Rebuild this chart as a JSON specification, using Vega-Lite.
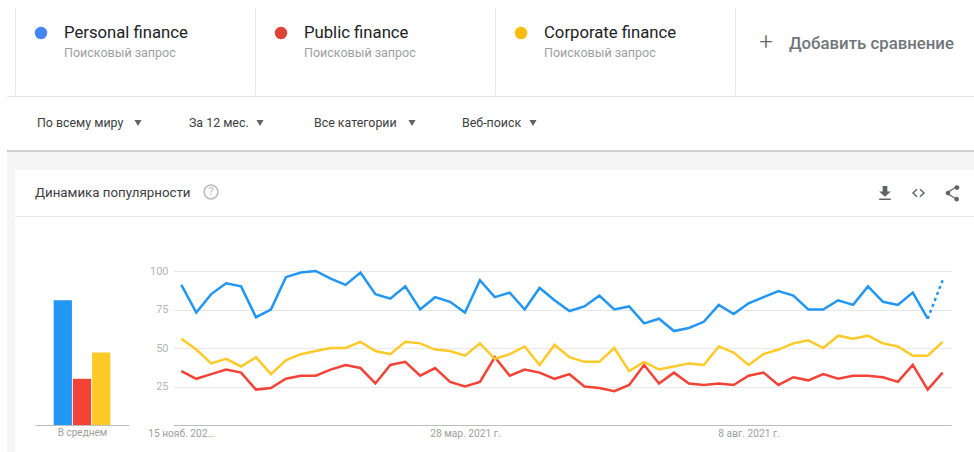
{
"$schema":"https://vega.github.io/schema/vega-lite/v6.json",
"padding":0,"background":"#ffffff","spacing":0,
"resolve":{"scale":{"color":"independent","shape":"independent"}},
"config":{"view":{"stroke":null},"font":"Roboto","concat":{"spacing":0}},
"datasets":{
"cards":[{"term":"Personal finance","order":0,"sub":"Поисковый запрос","kind":"term"},{"term":"Public finance","order":1,"sub":"Поисковый запрос","kind":"term"},{"term":"Corporate finance","order":2,"sub":"Поисковый запрос","kind":"term"},{"term":"Добавить сравнение","order":3,"sub":"+","kind":"add"}],
"filters":[{"filter":"По всему миру","order":0},{"filter":"За 12 мес.","order":1},{"filter":"Все категории","order":2},{"filter":"Веб-поиск","order":3}],
"head":[{"label":"Динамика популярности","help":"?"}],
"icons":[{"icon":"download","order":0},{"icon":"code","order":1},{"icon":"share","order":2}],
"avg":[{"series":"Personal finance","avg":81},{"series":"Public finance","avg":30},{"series":"Corporate finance","avg":47}],
"blank":[{"b":1}],
"trends":[
{"week":"2020-11-15T00:00:00","Personal finance":91,"Public finance":35,"Corporate finance":56},
{"week":"2020-11-22T00:00:00","Personal finance":73,"Public finance":30,"Corporate finance":49},
{"week":"2020-11-29T00:00:00","Personal finance":85,"Public finance":33,"Corporate finance":40},
{"week":"2020-12-06T00:00:00","Personal finance":92,"Public finance":36,"Corporate finance":43},
{"week":"2020-12-13T00:00:00","Personal finance":90,"Public finance":34,"Corporate finance":38},
{"week":"2020-12-20T00:00:00","Personal finance":70,"Public finance":23,"Corporate finance":44},
{"week":"2020-12-27T00:00:00","Personal finance":75,"Public finance":24,"Corporate finance":33},
{"week":"2021-01-03T00:00:00","Personal finance":96,"Public finance":30,"Corporate finance":42},
{"week":"2021-01-10T00:00:00","Personal finance":99,"Public finance":32,"Corporate finance":46},
{"week":"2021-01-17T00:00:00","Personal finance":100,"Public finance":32,"Corporate finance":48},
{"week":"2021-01-24T00:00:00","Personal finance":95,"Public finance":36,"Corporate finance":50},
{"week":"2021-01-31T00:00:00","Personal finance":91,"Public finance":39,"Corporate finance":50},
{"week":"2021-02-07T00:00:00","Personal finance":99,"Public finance":37,"Corporate finance":54},
{"week":"2021-02-14T00:00:00","Personal finance":85,"Public finance":27,"Corporate finance":48},
{"week":"2021-02-21T00:00:00","Personal finance":82,"Public finance":39,"Corporate finance":46},
{"week":"2021-02-28T00:00:00","Personal finance":90,"Public finance":41,"Corporate finance":54},
{"week":"2021-03-07T00:00:00","Personal finance":75,"Public finance":32,"Corporate finance":53},
{"week":"2021-03-14T00:00:00","Personal finance":83,"Public finance":37,"Corporate finance":49},
{"week":"2021-03-21T00:00:00","Personal finance":80,"Public finance":28,"Corporate finance":48},
{"week":"2021-03-28T00:00:00","Personal finance":73,"Public finance":25,"Corporate finance":45},
{"week":"2021-04-04T00:00:00","Personal finance":94,"Public finance":28,"Corporate finance":53},
{"week":"2021-04-11T00:00:00","Personal finance":83,"Public finance":44,"Corporate finance":43},
{"week":"2021-04-18T00:00:00","Personal finance":86,"Public finance":32,"Corporate finance":46},
{"week":"2021-04-25T00:00:00","Personal finance":75,"Public finance":36,"Corporate finance":51},
{"week":"2021-05-02T00:00:00","Personal finance":89,"Public finance":34,"Corporate finance":39},
{"week":"2021-05-09T00:00:00","Personal finance":81,"Public finance":30,"Corporate finance":52},
{"week":"2021-05-16T00:00:00","Personal finance":74,"Public finance":33,"Corporate finance":44},
{"week":"2021-05-23T00:00:00","Personal finance":77,"Public finance":25,"Corporate finance":41},
{"week":"2021-05-30T00:00:00","Personal finance":84,"Public finance":24,"Corporate finance":41},
{"week":"2021-06-06T00:00:00","Personal finance":75,"Public finance":22,"Corporate finance":50},
{"week":"2021-06-13T00:00:00","Personal finance":77,"Public finance":26,"Corporate finance":35},
{"week":"2021-06-20T00:00:00","Personal finance":66,"Public finance":39,"Corporate finance":41},
{"week":"2021-06-27T00:00:00","Personal finance":69,"Public finance":27,"Corporate finance":36},
{"week":"2021-07-04T00:00:00","Personal finance":61,"Public finance":34,"Corporate finance":38},
{"week":"2021-07-11T00:00:00","Personal finance":63,"Public finance":27,"Corporate finance":40},
{"week":"2021-07-18T00:00:00","Personal finance":67,"Public finance":26,"Corporate finance":39},
{"week":"2021-07-25T00:00:00","Personal finance":78,"Public finance":27,"Corporate finance":51},
{"week":"2021-08-01T00:00:00","Personal finance":72,"Public finance":26,"Corporate finance":47},
{"week":"2021-08-08T00:00:00","Personal finance":79,"Public finance":32,"Corporate finance":39},
{"week":"2021-08-15T00:00:00","Personal finance":83,"Public finance":34,"Corporate finance":46},
{"week":"2021-08-22T00:00:00","Personal finance":87,"Public finance":26,"Corporate finance":49},
{"week":"2021-08-29T00:00:00","Personal finance":84,"Public finance":31,"Corporate finance":53},
{"week":"2021-09-05T00:00:00","Personal finance":75,"Public finance":29,"Corporate finance":55},
{"week":"2021-09-12T00:00:00","Personal finance":75,"Public finance":33,"Corporate finance":50},
{"week":"2021-09-19T00:00:00","Personal finance":81,"Public finance":30,"Corporate finance":58},
{"week":"2021-09-26T00:00:00","Personal finance":78,"Public finance":32,"Corporate finance":56},
{"week":"2021-10-03T00:00:00","Personal finance":90,"Public finance":32,"Corporate finance":58},
{"week":"2021-10-10T00:00:00","Personal finance":80,"Public finance":31,"Corporate finance":53},
{"week":"2021-10-17T00:00:00","Personal finance":78,"Public finance":28,"Corporate finance":51},
{"week":"2021-10-24T00:00:00","Personal finance":86,"Public finance":39,"Corporate finance":45},
{"week":"2021-10-31T00:00:00","Personal finance":69,"Public finance":23,"Corporate finance":45,"segment":"edge"},
{"week":"2021-11-07T00:00:00","Personal finance":94,"Public finance":34,"Corporate finance":54,"segment":"partial"}
]},
"vconcat":[
{"width":974,"height":95,"data":{"name":"cards"},
 "resolve":{"scale":{"x":"independent"}},
 "layer":[
 {"mark":{"type":"rule","color":"#e8e8e8","strokeWidth":1},
  "encoding":{"x":{"field":"order","type":"quantitative","axis":null,"scale":{"domain":[0,3],"range":[15.5,735.5]}},
   "y":{"datum":8,"type":"quantitative","axis":null,"scale":{"domain":[0,95],"range":[0,95]}},"y2":{"datum":95}}},
 {"transform":[{"filter":"datum.kind=='term'"}],"mark":{"type":"point","filled":true,"opacity":1,"size":154},
  "encoding":{"x":{"field":"order","type":"quantitative","axis":null,"scale":{"domain":[0,2],"range":[41,521]}},
   "y":{"datum":33,"type":"quantitative","axis":null,"scale":{"domain":[0,95],"range":[0,95]}},
   "color":{"field":"term","type":"nominal","legend":null,"scale":{"domain":["Personal finance","Public finance","Corporate finance"],"range":["#4285f4","#db4437","#fbbc04"]}}}},
 {"transform":[{"filter":"datum.kind=='term'"}],"mark":{"type":"text","align":"left","baseline":"middle","fontSize":16.7,"color":"#202124"},
  "encoding":{"x":{"field":"order","type":"quantitative","axis":null,"scale":{"domain":[0,2],"range":[64,544]}},
   "y":{"datum":33,"type":"quantitative","axis":null,"scale":{"domain":[0,95],"range":[0,95]}},"text":{"field":"term"}}},
 {"transform":[{"filter":"datum.kind=='term'"}],"mark":{"type":"text","align":"left","baseline":"middle","fontSize":12.5,"color":"#9aa0a6"},
  "encoding":{"x":{"field":"order","type":"quantitative","axis":null,"scale":{"domain":[0,2],"range":[64,544]}},
   "y":{"datum":53,"type":"quantitative","axis":null,"scale":{"domain":[0,95],"range":[0,95]}},"text":{"field":"sub"}}},
 {"transform":[{"filter":"datum.kind=='add'"}],"mark":{"type":"text","align":"left","baseline":"middle","fontSize":16.8,"fontWeight":500,"color":"#70757a"},
  "encoding":{"x":{"field":"order","type":"quantitative","axis":null,"scale":{"domain":[0,3],"range":[0,789]}},
   "y":{"datum":44,"type":"quantitative","axis":null,"scale":{"domain":[0,95],"range":[0,95]}},"text":{"field":"term"}}},
 {"transform":[{"filter":"datum.kind=='add'"}],"mark":{"type":"text","align":"center","baseline":"middle","fontSize":24,"fontWeight":300,"color":"#5f6368"},
  "encoding":{"x":{"field":"order","type":"quantitative","axis":null,"scale":{"domain":[0,3],"range":[0,766]}},
   "y":{"datum":43,"type":"quantitative","axis":null,"scale":{"domain":[0,95],"range":[0,95]}},"text":{"field":"sub"}}}
 ]},
{"hconcat":[
  {"width":7,"height":1,"data":{"name":"blank"},"mark":{"type":"rect","color":"#ffffff"}},
  {"width":967,"height":1,"data":{"name":"blank"},"mark":{"type":"rect","color":"#e4e4e4"}}
 ],"spacing":0,"bounds":"flush"},
{"width":974,"height":53,"data":{"name":"filters"},
 "resolve":{"scale":{"x":"independent"}},
 "layer":[
 {"mark":{"type":"text","align":"left","baseline":"middle","fontSize":12.4,"color":"#3c4043"},
  "encoding":{"x":{"field":"order","type":"quantitative","axis":null,"scale":{"domain":[0,1,2,3],"range":[37,189,314,462]}},
   "y":{"datum":26,"type":"quantitative","axis":null,"scale":{"domain":[0,53],"range":[0,53]}},"text":{"field":"filter"}}},
 {"mark":{"type":"point","shape":"triangle-down","filled":true,"opacity":1,"size":50,"color":"#5f6368"},
  "encoding":{"x":{"field":"order","type":"quantitative","axis":null,"scale":{"domain":[0,1,2,3],"range":[138,260,412,533]}},
   "y":{"datum":26,"type":"quantitative","axis":null,"scale":{"domain":[0,53],"range":[0,53]}}}}
 ]},
{"hconcat":[
  {"width":7,"height":2,"data":{"name":"blank"},"mark":{"type":"rect","color":"#ffffff"}},
  {"width":967,"height":2,"data":{"name":"blank"},"mark":{"type":"rect","color":"#cfcfcf"}}
 ],"spacing":0,"bounds":"flush"},
{"hconcat":[
  {"width":7,"height":18,"data":{"name":"blank"},"mark":{"type":"rect","color":"#ffffff"}},
  {"width":967,"height":18,"data":{"name":"blank"},"mark":{"type":"rect","color":"#f5f5f5"}}
 ],"spacing":0,"bounds":"flush"},
{"hconcat":[
  {"width":7,"height":282,"data":{"name":"blank"},"mark":{"type":"rect","color":"#ffffff"}},
  {"width":8,"height":282,"data":{"name":"blank"},"mark":{"type":"rect","color":"#f5f5f5"}},
  {"vconcat":[
   {"width":959,"height":46,"resolve":{"scale":{"x":"independent"}},
    "layer":[
    {"data":{"name":"head"},"mark":{"type":"text","align":"left","baseline":"middle","fontSize":13.3,"color":"#3c4043"},
     "encoding":{"x":{"datum":20,"type":"quantitative","axis":null,"scale":{"domain":[0,959],"range":[0,959]}},
      "y":{"datum":23,"type":"quantitative","axis":null,"scale":{"domain":[0,46],"range":[0,46]}},"text":{"field":"label"}}},
    {"data":{"name":"head"},"mark":{"type":"point","filled":false,"opacity":1,"size":190,"stroke":"#bdbdbd","strokeWidth":1.5},
     "encoding":{"x":{"datum":196,"type":"quantitative","axis":null,"scale":{"domain":[0,959],"range":[0,959]}},
      "y":{"datum":22,"type":"quantitative","axis":null,"scale":{"domain":[0,46],"range":[0,46]}}}},
    {"data":{"name":"head"},"mark":{"type":"text","align":"center","baseline":"middle","fontSize":11,"color":"#bdbdbd"},
     "encoding":{"x":{"datum":196,"type":"quantitative","axis":null,"scale":{"domain":[0,959],"range":[0,959]}},
      "y":{"datum":22,"type":"quantitative","axis":null,"scale":{"domain":[0,46],"range":[0,46]}},"text":{"field":"help"}}},
    {"data":{"name":"icons"},"mark":{"type":"point","filled":true,"opacity":1,"size":240,"fill":"#5f6368","stroke":null},
     "encoding":{"x":{"field":"order","type":"quantitative","axis":null,"scale":{"domain":[0,2],"range":[870,937]}},
      "y":{"datum":23,"type":"quantitative","axis":null,"scale":{"domain":[0,46],"range":[0,46]}},
      "shape":{"field":"icon","type":"nominal","legend":null,"scale":{"domain":["download","code","share"],"range":[
        "M-0.3,-0.9H0.3V-0.2H0.75L0,0.5L-0.75,-0.2H-0.3ZM-0.75,0.7H0.75V0.9H-0.75Z",
        "M-0.25,-0.55L-0.85,0L-0.25,0.55L-0.13,0.42L-0.58,0L-0.13,-0.42ZM0.25,-0.55L0.85,0L0.25,0.55L0.13,0.42L0.58,0L0.13,-0.42Z",
        "M0.65,-1A0.3,0.3 0 1 1 0.37,-0.59L-0.28,-0.17A0.3,0.3 0 0 1 -0.28,0.17L0.37,0.59A0.3,0.3 0 1 1 0.3,0.72L-0.4,0.28A0.3,0.3 0 1 1 -0.4,-0.28L0.3,-0.72A0.3,0.3 0 0 1 0.65,-1Z"]}}}}
    ]},
   {"width":959,"height":1,"data":{"name":"blank"},"mark":{"type":"rect","color":"#e8e8e8"}},
   {"width":959,"height":54,"data":{"name":"blank"},"mark":{"type":"rect","color":"#ffffff"}},
   {"hconcat":[
    {"width":158,"height":154,"data":{"name":"avg"},
     "mark":{"type":"bar","stroke":null},
     "encoding":{
      "x":{"field":"series","type":"nominal","sort":null,"scale":{"domain":["Personal finance","Public finance","Corporate finance"],"range":[20,114],"paddingInner":0.05,"paddingOuter":0.974},
       "axis":{"title":"В среднем","titleFontSize":10,"titleFontWeight":"normal","titleColor":"#9e9e9e","titlePadding":2,"labels":false,"ticks":false,"domainColor":"#bdbdbd","domainWidth":1}},
      "y":{"field":"avg","type":"quantitative","axis":null,"scale":{"domain":[0,100]}},
      "color":{"field":"series","type":"nominal","legend":null,"scale":{"domain":["Personal finance","Public finance","Corporate finance"],"range":["#2196f3","#f44336","#ffca28"]}}}},
    {"width":778,"height":154,"data":{"name":"trends"},
     "transform":[{"fold":["Personal finance","Public finance","Corporate finance"],"as":["series","value"]}],
     "encoding":{
      "x":{"field":"week","type":"temporal","scale":{"domain":["2020-11-11T02:00:00","2021-11-10T22:00:00"]},
       "axis":{"title":null,"values":["2020-11-15T00:00:00","2021-03-28T00:00:00","2021-08-08T00:00:00"],"labelExpr":"month(datum.value)==10?'15 нояб. 202...':month(datum.value)==2?'28 мар. 2021 г.':'8 авг. 2021 г.'","labelFontSize":10.2,"labelColor":"#9e9e9e","labelPadding":3,"labelOverlap":false,"labelFlush":false,"ticks":false,"grid":false,"domainColor":"#bdbdbd","domainWidth":1}},
      "y":{"field":"value","type":"quantitative","scale":{"domain":[0,100]},
       "axis":{"title":null,"values":[25,50,75,100],"labelFontSize":11,"labelColor":"#b5b5b5","labelPadding":5,"ticks":false,"domain":false,"grid":true,"gridColor":"#e8e8e8","gridWidth":1}},
      "color":{"field":"series","type":"nominal","legend":null,"scale":{"domain":["Personal finance","Public finance","Corporate finance"],"range":["#2196f3","#f44336","#ffca28"]}}},
     "layer":[
      {"transform":[{"filter":"!(datum.series=='Personal finance'&&datum.segment=='partial')"}],"mark":{"type":"line","strokeWidth":2.5,"interpolate":"linear"}},
      {"transform":[{"filter":"datum.series=='Personal finance'&&datum.segment"}],"mark":{"type":"line","strokeWidth":2.5,"strokeDash":[3,3.4]}}
     ]}
    ],"spacing":0,"bounds":"flush"}
   ],"spacing":0,"bounds":"flush"}
 ],"spacing":0,"bounds":"flush"}
]}
